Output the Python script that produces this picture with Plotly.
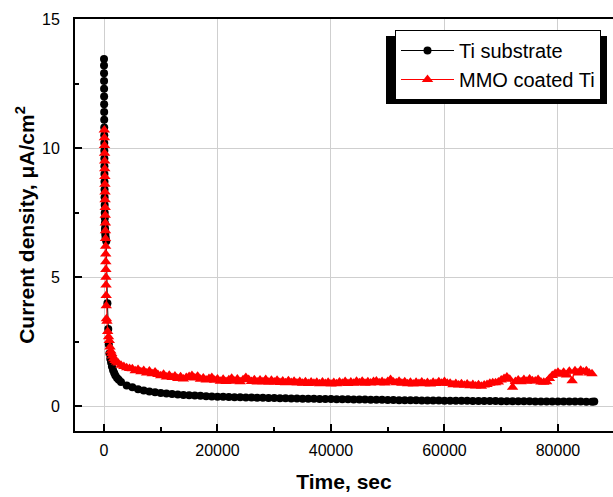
import plotly.graph_objects as go

# ---------------- data ----------------
ti_time = [0, 4, 8, 12, 16, 20, 25, 30, 35, 40, 46, 52, 58, 65, 72, 80, 88, 97, 107, 118,
           130, 144, 160, 180, 200, 230, 260, 300,
           400, 600, 750, 850, 950, 1100, 1250, 1400, 1600, 1800, 2000, 2300, 2600,
           3000, 4000, 5000, 6000, 7000, 8000, 9000, 10000, 11000, 12000, 13000, 14000,
           15000, 16000, 17000, 18000, 19000, 20000, 21000, 22000, 23000, 24000, 25000,
           26000, 27000, 28000, 29000, 30000, 31000, 32000, 33000, 34000, 35000, 36000,
           37000, 38000, 39000, 40000, 41000, 42000, 43000, 44000, 45000, 46000, 47000,
           48000, 49000, 50000, 51000, 52000, 53000, 54000, 55000, 56000, 57000, 58000,
           59000, 60000, 61000, 62000, 63000, 64000, 65000, 66000, 67000, 68000, 69000,
           70000, 71000, 72000, 73000, 74000, 75000, 76000, 77000, 78000, 79000, 80000,
           81000, 82000, 83000, 84000, 85000, 86000, 86400]
ti_current = [13.45, 13.2, 12.9, 12.6, 12.3, 12.0, 11.7, 11.4, 11.1, 10.8, 10.5, 10.2, 9.9, 9.6, 9.3, 9.0, 8.7, 8.4, 8.1, 7.8,
              7.5, 7.3, 7.1, 6.9, 6.8, 6.7, 6.6, 6.5,
              6.4, 4.0, 3.0, 2.4, 2.05, 1.85, 1.7, 1.55, 1.4, 1.3, 1.2, 1.1, 1.03,
              0.95, 0.81, 0.74, 0.67, 0.62, 0.58, 0.55, 0.52, 0.50, 0.48, 0.46, 0.44,
              0.43, 0.42, 0.41, 0.40, 0.39, 0.38, 0.375, 0.37, 0.36, 0.355, 0.35,
              0.345, 0.34, 0.335, 0.33, 0.325, 0.32, 0.315, 0.31, 0.305, 0.30, 0.30,
              0.295, 0.29, 0.29, 0.285, 0.28, 0.28, 0.275, 0.27, 0.27, 0.265, 0.26,
              0.26, 0.255, 0.25, 0.25, 0.245, 0.245, 0.24, 0.24, 0.235, 0.235, 0.23,
              0.23, 0.225, 0.225, 0.22, 0.22, 0.22, 0.215, 0.215, 0.21, 0.21, 0.21,
              0.205, 0.205, 0.20, 0.20, 0.20, 0.20, 0.195, 0.195, 0.195, 0.19, 0.19,
              0.19, 0.19, 0.19, 0.19, 0.185, 0.185, 0.19]

mmo_time = [60, 75, 90, 105, 120, 135, 150, 165, 180, 195, 210, 225, 240, 255, 270, 285,
            300, 315, 330, 345, 360, 380, 400, 430,
            520, 650, 800, 930, 1060, 1200, 1350, 1500, 1700, 1940, 2200,
            2500, 3000, 3500, 4000, 4500,
            5000, 5500, 6000, 6500, 7000, 7500, 8000, 8500, 9000, 9500,
            10000, 10500, 11000, 11500, 12000, 12500, 13000, 13500, 14000, 14500,
            15000, 15500, 16000, 16500, 17000, 17500, 18000, 18500, 19000, 19500,
            20000, 20500, 21000, 21500, 22000, 22500, 23000, 23500, 24000, 24500,
            25000, 25500, 26000, 26500, 27000, 27500, 28000, 28500, 29000, 29500,
            30000, 30500, 31000, 31500, 32000, 32500, 33000, 33500, 34000, 34500,
            35000, 35500, 36000, 36500, 37000, 37500, 38000, 38500, 39000, 39500,
            40000, 40500, 41000, 41500, 42000, 42500, 43000, 43500, 44000, 44500,
            45000, 45500, 46000, 46500, 47000, 47500, 48000, 48500, 49000, 49500,
            50000, 50500, 51000, 51500, 52000, 52500, 53000, 53500, 54000, 54500,
            55000, 55500, 56000, 56500, 57000, 57500, 58000, 58500, 59000, 59500,
            60000, 60500, 61000, 61500, 62000, 62500, 63000, 63500, 64000, 64500,
            65000, 65500, 66000, 66500, 67000, 67500, 68000, 68500, 69000, 69500,
            70000, 70500, 71000, 71500, 72000, 72500, 73000, 73500, 74000, 74500,
            75000, 75500, 76000, 76500, 77000, 77500, 78000, 78500, 79000, 79500,
            80000, 80500, 81000, 81500, 82000, 82500, 83000, 83500, 84000, 84500,
            85000, 85500, 86000]
mmo_current = [10.7, 10.4, 10.1, 9.8, 9.5, 9.2, 8.9, 8.6, 8.3, 8.0, 7.7, 7.4, 7.1, 6.8, 6.5, 6.2,
               5.9, 5.6, 5.3, 5.0, 4.7, 4.3, 3.9, 3.4,
               3.3, 2.9, 2.7, 2.55, 2.3, 2.15, 2.05, 1.95, 1.85, 1.78, 1.72,
               1.68, 1.60, 1.55, 1.50, 1.47,
               1.46, 1.38, 1.43, 1.34, 1.39, 1.30, 1.37, 1.27, 1.33, 1.24,
               1.19, 1.25, 1.14, 1.21, 1.12, 1.18, 1.08, 1.15, 1.06, 1.12,
               1.16, 1.20, 1.10, 1.17, 1.05, 1.10, 1.02, 1.08, 1.12, 1.01,
               1.06, 0.98, 1.05, 0.97, 1.03, 1.09, 0.98, 1.06, 0.96, 1.03,
               1.12, 1.04, 0.97, 1.03, 0.95, 1.02, 0.96, 1.04, 0.94, 1.01,
               0.95, 1.01, 0.93, 0.99, 0.92, 1.00, 0.93, 0.98, 0.91, 0.97,
               0.90, 0.96, 0.89, 0.95, 0.90, 0.94, 0.88, 0.95, 0.89, 0.94,
               0.87, 0.93, 0.88, 0.95, 0.90, 0.97, 0.89, 0.95, 0.90, 0.98,
               0.92, 0.98, 0.90, 0.96, 0.91, 0.97, 0.99, 0.92, 0.97, 0.91,
               0.97, 1.04, 0.95, 0.92, 0.98, 0.90, 0.96, 0.88, 0.94, 0.87,
               0.94, 0.89, 0.95, 0.88, 0.93, 0.87, 0.94, 0.89, 0.96, 0.90,
               0.97, 0.90, 0.90, 0.84, 0.89, 0.83, 0.88, 0.82, 0.87, 0.80,
               0.85, 0.79, 0.84, 0.78, 0.83, 0.85, 0.90, 0.92, 0.92, 0.95,
               1.02, 1.08, 1.14, 1.05, 0.74, 0.97, 1.02, 0.96, 1.04, 0.98,
               1.06, 1.00, 0.99, 1.04, 0.95, 0.94, 0.96, 1.08, 1.20, 1.28,
               1.32, 1.25, 1.32, 1.22, 1.36, 1.00, 1.38, 1.30, 1.40, 1.33,
               1.38, 1.30, 1.27]

series_names = ["Ti substrate", "MMO coated Ti"]
x_tick_vals = [0, 20000, 40000, 60000, 80000]
x_tick_text = ["0", "20000", "40000", "60000", "80000"]
y_tick_vals = [0, 5, 10, 15]

# ---------------- figure ----------------
FONT = "Liberation Sans, Arial, sans-serif"
PLOT_L, PLOT_W, PLOT_T, PLOT_H = 75, 538, 19, 412


def px_x(p):
    return (p - PLOT_L) / PLOT_W


def px_y(p):
    return (PLOT_T + PLOT_H - p) / PLOT_H


fig = go.Figure()
fig.add_trace(go.Scatter(
    x=ti_time, y=ti_current, name=series_names[0], mode="lines+markers",
    line=dict(color="black", width=1),
    marker=dict(symbol="circle", size=8, color="black"),
))
fig.add_trace(go.Scatter(
    x=mmo_time, y=mmo_current, name=series_names[1], mode="lines+markers",
    line=dict(color="#ff0000", width=1),
    marker=dict(symbol="triangle-up", size=10, color="#ff0000"),
))

# legend drop shadow (paper coordinates)
fig.add_shape(type="rect", xref="paper", yref="paper",
              x0=px_x(386), x1=px_x(607),
              y0=px_y(104), y1=px_y(36),
              fillcolor="black", line=dict(width=0), layer="above")

fig.update_layout(
    width=613, height=497,
    margin=dict(l=PLOT_L, r=0, t=PLOT_T, b=66),
    paper_bgcolor="white", plot_bgcolor="white",
    font=dict(family=FONT, color="black", size=16),
    showlegend=True,
    legend=dict(
        x=px_x(601), y=px_y(30), xanchor="right", yanchor="top",
        bgcolor="white", bordercolor="black", borderwidth=1,
        font=dict(family=FONT, size=20, color="black"),
        itemwidth=53, entrywidth=152, entrywidthmode="pixels", tracegroupgap=0,
    ),
    xaxis=dict(
        range=[-5110, 89700],
        tickmode="array", tickvals=x_tick_vals, ticktext=x_tick_text,
        ticks="inside", ticklen=7, tickwidth=1.5, tickcolor="black",
        minor=dict(dtick=10000, tick0=0, ticks="inside", ticklen=4, tickwidth=1.5,
                   tickcolor="black", showgrid=False),
        showline=True, linecolor="black", linewidth=2, mirror=True,
        showgrid=True, gridcolor="#cfcfcf", gridwidth=1,
        zeroline=False,
        tickfont=dict(size=16),
        ticklabelstandoff=4,
        title=dict(text="<b>Time, sec</b>", font=dict(size=21), standoff=16),
    ),
    yaxis=dict(
        range=[-0.95, 15],
        tickmode="array", tickvals=y_tick_vals,
        ticks="inside", ticklen=7, tickwidth=1.5, tickcolor="black",
        minor=dict(dtick=2.5, tick0=0, ticks="inside", ticklen=4, tickwidth=1.5,
                   tickcolor="black", showgrid=False),
        showline=True, linecolor="black", linewidth=2, mirror=False,
        showgrid=True, gridcolor="#cfcfcf", gridwidth=1,
        zeroline=False,
        tickfont=dict(size=16),
        ticklabelstandoff=10,
        title=dict(text="<b>Current density, μA/cm<sup>2</sup></b>", font=dict(size=21), standoff=2),
    ),
)

fig.write_html("out.html")
